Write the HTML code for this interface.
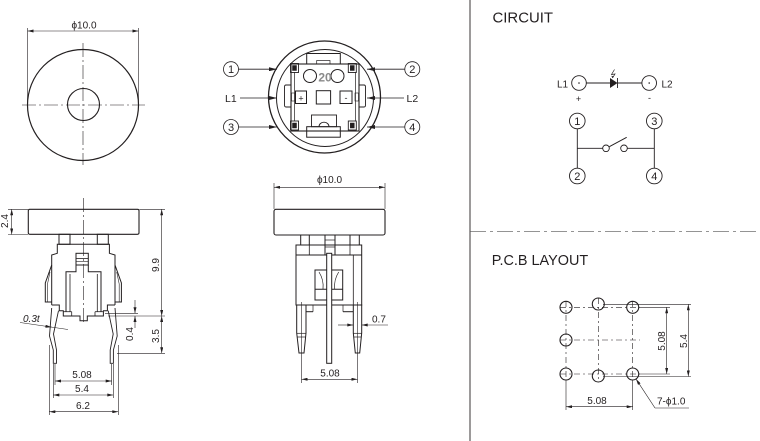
<!DOCTYPE html>
<html><head><meta charset="utf-8"><style>
html,body{margin:0;padding:0;background:#fff}
svg{display:block}
text{font-family:"Liberation Sans","DejaVu Sans",sans-serif;fill:#231f20}
</style></head><body>
<svg width="760" height="441" viewBox="0 0 760 441" xmlns="http://www.w3.org/2000/svg">
<defs>
<marker id="ar" viewBox="0 0 8 4" refX="8" refY="2" markerWidth="7" markerHeight="3" markerUnits="userSpaceOnUse" orient="auto-start-reverse"><path d="M0,0 L8,2 L0,4 z" fill="#231f20"/></marker>
<marker id="ab" viewBox="0 0 8 4" refX="8" refY="2" markerWidth="9" markerHeight="4" markerUnits="userSpaceOnUse" orient="auto"><path d="M0,0 L8,2 L0,4 z" fill="#231f20"/></marker>
</defs>
<rect width="760" height="441" fill="#fff"/>

<!-- dividers -->
<line x1="470" y1="0" x2="470" y2="441" stroke="#231f20" stroke-width="0.9"/>
<line x1="470" y1="231.7" x2="760" y2="231.7" stroke="#555" stroke-width="0.6" stroke-dasharray="16,4,3,4"/>

<!-- ===== TOP LEFT ===== -->
<g fill="none" stroke="#231f20">
<circle cx="83" cy="105" r="55.5" stroke-width="1.2"/>
<circle cx="83.5" cy="104.5" r="16" stroke-width="1.1"/>
<g stroke-width="0.6" stroke-dasharray="14,3,2,3">
<line x1="22" y1="105" x2="145" y2="105"/>
<line x1="83" y1="43" x2="83" y2="165"/>
</g>
<g stroke-width="0.6">
<line x1="27.5" y1="28" x2="27.5" y2="104"/>
<line x1="138.5" y1="28" x2="138.5" y2="104"/>
<line x1="27.5" y1="31" x2="138.5" y2="31" marker-start="url(#ar)" marker-end="url(#ar)"/>
</g>
</g>
<text x="84" y="28.3" font-size="10" text-anchor="middle">ϕ10.0</text>

<!-- ===== TOP MIDDLE ===== -->
<g fill="none" stroke="#231f20">
<circle cx="324.5" cy="97" r="56" stroke-width="1.3"/>
<circle cx="325" cy="98" r="48.5" stroke-width="1"/>
<!-- body square -->
<rect x="291" y="64" width="68" height="67" stroke-width="1.1"/>
<line x1="294.5" y1="72" x2="294.5" y2="121" stroke-width="0.7"/>
<line x1="355.5" y1="72" x2="355.5" y2="121" stroke-width="0.7"/>
<!-- top tab -->
<rect x="306.7" y="53.5" width="33.6" height="10.5" stroke-width="1"/>
<rect x="316.7" y="60.5" width="13.3" height="3.5" stroke-width="0.7"/>
<!-- bottom tab -->
<rect x="311.5" y="115" width="25" height="11.7" stroke-width="0.9"/>
<path d="M319,126.7 A5,4.5 0 0 1 329,126.7" stroke-width="0.9"/>
<rect x="306.7" y="126.7" width="33.6" height="10.5" stroke-width="1"/>
<!-- corner squares -->
<rect x="290.5" y="63.5" width="8" height="9" stroke-width="0.9"/>
<rect x="292.5" y="65.5" width="4" height="5" fill="#231f20" stroke-width="0.5"/>
<rect x="348.3" y="63.5" width="8" height="9" stroke-width="0.9"/>
<rect x="350.3" y="65.5" width="4" height="5" fill="#231f20" stroke-width="0.5"/>
<rect x="290.5" y="121" width="8" height="9" stroke-width="0.9"/>
<rect x="292.5" y="123" width="4" height="5" fill="#231f20" stroke-width="0.5"/>
<rect x="348.3" y="121" width="8" height="9" stroke-width="0.9"/>
<rect x="350.3" y="123" width="4" height="5" fill="#231f20" stroke-width="0.5"/>
<!-- side nubs -->
<path d="M291,85 H286 Q284.5,85 284.5,87 V105 Q284.5,107 286,107 H291" stroke-width="0.9"/>
<path d="M359,85 H364 Q365.5,85 365.5,87 V105 Q365.5,107 364,107 H359" stroke-width="0.9"/>
<!-- circles with 20 -->
<circle cx="310" cy="76" r="6.5" stroke-width="1"/>
<circle cx="337.5" cy="76" r="6.5" stroke-width="1"/>
<!-- boxes -->
<rect x="295.5" y="91" width="11" height="12.5" stroke-width="1"/>
<rect x="316.3" y="90.7" width="14.3" height="13.3" stroke-width="1"/>
<rect x="340" y="91" width="12" height="12.5" stroke-width="1"/>
<rect x="291.5" y="93" width="3.5" height="8" stroke-width="0.6"/>
<rect x="355" y="93" width="3.5" height="8" stroke-width="0.6"/>
</g>
<text x="325" y="81.5" font-size="12" font-weight="bold" text-anchor="middle" style="fill:#8a8a8a">20</text>
<text x="301" y="101.5" font-size="9" text-anchor="middle">+</text>
<text x="346" y="101" font-size="9" text-anchor="middle">-</text>

<!-- leaders -->
<g stroke="#231f20" stroke-width="0.8" fill="none">
<line x1="238.5" y1="69.2" x2="277" y2="69.2" marker-end="url(#ab)"/>
<line x1="240" y1="98" x2="277" y2="98" marker-end="url(#ab)"/>
<line x1="238.5" y1="127" x2="277" y2="127" marker-end="url(#ab)"/>
<line x1="404.5" y1="69.2" x2="367" y2="69.2" marker-end="url(#ab)"/>
<line x1="404" y1="98" x2="367" y2="98" marker-end="url(#ab)"/>
<line x1="404.5" y1="127" x2="367" y2="127" marker-end="url(#ab)"/>
<circle cx="231" cy="69.2" r="7.5"/>
<circle cx="231" cy="127" r="7.5"/>
<circle cx="412.3" cy="69.2" r="7.5"/>
<circle cx="412.3" cy="127" r="7.5"/>
</g>
<g font-size="11" text-anchor="middle">
<text x="231" y="73">1</text>
<text x="231" y="131">3</text>
<text x="412.3" y="73">2</text>
<text x="412.3" y="131">4</text>
</g>
<text x="225" y="102" font-size="10.5">L1</text>
<text x="406.5" y="102" font-size="10.5">L2</text>

<!-- ===== BOTTOM LEFT ===== -->
<g fill="none" stroke="#231f20" stroke-width="1">
<rect x="28.3" y="209.3" width="110.7" height="25" rx="1.5" stroke-width="1.1"/>
<rect x="59" y="234.3" width="11" height="10"/>
<rect x="97.3" y="234.3" width="11" height="10"/>
<path d="M51.7,305 V255 L57.3,253.3 V244.3 H109.4 V253.3 L115,255 V305"/>
<path d="M51.7,305 H59.3 V310.7 H63.3 V316 H80 V320.7 H87.3 V316 H103.4 V310.7 H107.4 V305 H115"/>
<line x1="63.3" y1="311.7" x2="71.7" y2="311.7" stroke-width="0.8"/>
<line x1="71.7" y1="311.7" x2="71.7" y2="316" stroke-width="0.8"/>
<line x1="95" y1="311.7" x2="103.4" y2="311.7" stroke-width="0.8"/>
<line x1="95" y1="311.7" x2="95" y2="316" stroke-width="0.8"/>
<!-- springs -->
<path d="M51.7,265 L45.3,283 V302 H51.7"/>
<path d="M50,272 L47.5,284 V302" stroke-width="0.6"/>
<path d="M115,265 L121.4,283 V302 H115"/>
<path d="M116.7,272 L119.2,284 V302" stroke-width="0.6"/>
<!-- LED block -->
<rect x="76" y="253.3" width="12.3" height="11.7"/>
<line x1="76" y1="258.5" x2="88.3" y2="258.5" stroke-width="0.8"/>
<line x1="76" y1="261.5" x2="88.3" y2="261.5" stroke-width="0.6"/>
<!-- inner U -->
<path d="M76,265 V271.7 H66 V311.7"/>
<path d="M88.3,265 V271.7 H101 V311.7"/>
<line x1="70" y1="274" x2="70" y2="311.7" stroke-width="0.8"/>
<line x1="97.3" y1="274" x2="97.3" y2="311.7" stroke-width="0.8"/>
<!-- legs -->
<path d="M51.7,308 L49.5,336 L53.3,350 V363.3 H56.5 V350 L53.5,334 L58.5,310.7" stroke-width="0.9"/>
<path d="M115,308 L117.2,336 L113.4,350 V363.3 H110.2 V350 L113.2,334 L108.2,310.7" stroke-width="0.9"/>
</g>
<line x1="83.3" y1="198" x2="83.3" y2="324" stroke="#231f20" stroke-width="0.6" stroke-dasharray="14,3,2,3"/>
<!-- dims -->
<g stroke="#231f20" stroke-width="0.6" fill="none">
<line x1="8" y1="209.3" x2="28" y2="209.3"/>
<line x1="8" y1="234.5" x2="28" y2="234.5"/>
<line x1="11.7" y1="209.3" x2="11.7" y2="234.5" marker-start="url(#ar)" marker-end="url(#ar)"/>
<line x1="139.5" y1="209.3" x2="165" y2="209.3"/>
<line x1="161.7" y1="209.3" x2="161.7" y2="316" marker-start="url(#ar)" marker-end="url(#ar)"/>
<line x1="161.7" y1="316" x2="161.7" y2="353.3" marker-start="url(#ar)" marker-end="url(#ar)"/>
<line x1="105" y1="313.3" x2="138" y2="313.3"/>
<line x1="108" y1="316" x2="165" y2="316"/>
<line x1="117" y1="353.3" x2="165" y2="353.3"/>
<line x1="135" y1="300" x2="135" y2="313.3" marker-end="url(#ar)"/>
<line x1="135" y1="328" x2="135" y2="316" marker-end="url(#ar)"/>
<line x1="20" y1="322.5" x2="68" y2="329.5"/>
<line x1="45" y1="326.2" x2="51.5" y2="327.1" marker-end="url(#ar)"/>
<line x1="49.3" y1="345" x2="49.3" y2="415"/>
<line x1="118.3" y1="345" x2="118.3" y2="415"/>
<line x1="53.3" y1="364" x2="53.3" y2="398"/>
<line x1="113.3" y1="364" x2="113.3" y2="398"/>
<line x1="55" y1="364" x2="55" y2="385"/>
<line x1="111.7" y1="364" x2="111.7" y2="385"/>
<line x1="55" y1="381" x2="111.7" y2="381" marker-start="url(#ar)" marker-end="url(#ar)"/>
<line x1="53.3" y1="395" x2="113.3" y2="395" marker-start="url(#ar)" marker-end="url(#ar)"/>
<line x1="49.3" y1="411.7" x2="118.3" y2="411.7" marker-start="url(#ar)" marker-end="url(#ar)"/>
</g>
<g font-size="10">
<text x="8" y="221" text-anchor="middle" transform="rotate(-90 8 221)">2.4</text>
<text x="159" y="265" text-anchor="middle" transform="rotate(-90 159 265)">9.9</text>
<text x="159" y="336" text-anchor="middle" transform="rotate(-90 159 336)">3.5</text>
<text x="133" y="334" text-anchor="middle" transform="rotate(-90 133 334)">0.4</text>
<text x="23" y="322" font-style="italic">0.3t</text>
<text x="82" y="378" text-anchor="middle">5.08</text>
<text x="82" y="392" text-anchor="middle">5.4</text>
<text x="83" y="409" text-anchor="middle">6.2</text>
</g>

<!-- ===== BOTTOM MIDDLE ===== -->
<g fill="none" stroke="#231f20" stroke-width="1">
<rect x="274" y="209.3" width="111" height="25.7" rx="2" stroke-width="1.1"/>
<rect x="300.7" y="235" width="8.6" height="10"/>
<rect x="350" y="235" width="9.3" height="10"/>
<rect x="325" y="235" width="10" height="20"/>
<line x1="325" y1="240" x2="335" y2="240" stroke-width="0.7"/>
<line x1="325" y1="247" x2="335" y2="247" stroke-width="0.7"/>
<rect x="296" y="245" width="65.7" height="60"/>
<line x1="296" y1="255" x2="361.7" y2="255"/>
<line x1="309.3" y1="245" x2="309.3" y2="255" stroke-width="0.8"/>
<line x1="350" y1="245" x2="350" y2="255" stroke-width="0.8"/>
<line x1="353.3" y1="255" x2="353.3" y2="305" stroke-width="0.8"/>
<rect x="315" y="270" width="27.7" height="30"/>
<line x1="315" y1="289.3" x2="342.7" y2="289.3"/>
<path d="M319,272 Q324,280 323,289" stroke-width="0.7"/>
<path d="M338.7,272 Q333.7,280 334.7,289" stroke-width="0.7"/>
<line x1="305" y1="311.7" x2="313" y2="311.7"/>
<line x1="313" y1="305" x2="313" y2="311.7" stroke-width="0.7"/>
<line x1="343" y1="311.7" x2="353" y2="311.7"/>
<line x1="343" y1="305" x2="343" y2="311.7" stroke-width="0.7"/>
<path d="M296.7,305 H306 V333 L304,353 H299 L296.7,333 Z" fill="#fff"/>
<line x1="296.7" y1="333.3" x2="306" y2="333.3" stroke-width="0.7"/>
<line x1="297" y1="337" x2="305.6" y2="337" stroke-width="0.7"/>
<path d="M353.3,305 H361.7 V333 L359.7,353 H355.3 L353.3,333 Z" fill="#fff"/>
<line x1="353.3" y1="333.3" x2="361.7" y2="333.3" stroke-width="0.7"/>
<line x1="353.6" y1="337" x2="361.4" y2="337" stroke-width="0.7"/>
<rect x="326.7" y="253.3" width="5" height="110" fill="#fff"/>
</g>
<g stroke="#231f20" stroke-width="0.6" fill="none">
<line x1="274" y1="183" x2="274" y2="209"/>
<line x1="385" y1="183" x2="385" y2="209"/>
<line x1="274" y1="187.3" x2="385" y2="187.3" marker-start="url(#ar)" marker-end="url(#ar)"/>
<line x1="301.5" y1="302" x2="301.5" y2="383"/>
<line x1="357.5" y1="302" x2="357.5" y2="383"/>
<line x1="301.5" y1="379.3" x2="357.5" y2="379.3" marker-start="url(#ar)" marker-end="url(#ar)"/>
<line x1="338" y1="325" x2="353.3" y2="325" marker-end="url(#ar)"/>
<line x1="388" y1="325" x2="361.7" y2="325" marker-end="url(#ar)"/>
</g>
<g font-size="10">
<text x="329.5" y="183" text-anchor="middle">ϕ10.0</text>
<text x="330" y="376.5" text-anchor="middle">5.08</text>
<text x="372" y="322.5">0.7</text>
</g>

<!-- ===== CIRCUIT ===== -->
<text x="492.5" y="22.7" font-size="15" textLength="60.5" lengthAdjust="spacingAndGlyphs">CIRCUIT</text>
<g fill="none" stroke="#231f20" stroke-width="0.9">
<circle cx="579" cy="83" r="7.3"/>
<circle cx="649.2" cy="83" r="7.3"/>
<line x1="586.3" y1="83" x2="610" y2="83"/>
<line x1="617.5" y1="83" x2="641.9" y2="83"/>
<line x1="617.5" y1="78" x2="617.5" y2="88"/>
<path d="M614.5,69.5 L611.5,74.5 L615,74 L612.5,78" stroke-width="0.7"/>
<circle cx="577.3" cy="121" r="7.8"/>
<circle cx="654.3" cy="121" r="7.8"/>
<circle cx="577.3" cy="176" r="7.8"/>
<circle cx="654.3" cy="176" r="7.8"/>
<line x1="577.3" y1="128.8" x2="577.3" y2="168.2"/>
<line x1="654.3" y1="128.8" x2="654.3" y2="168.2"/>
<line x1="577.3" y1="148.3" x2="602.7" y2="148.3"/>
<line x1="627.3" y1="148.3" x2="654.3" y2="148.3"/>
<circle cx="606" cy="148.3" r="3.3"/>
<circle cx="624" cy="148.3" r="3.3"/>
<line x1="609.3" y1="146.7" x2="626.7" y2="137.3"/>
</g>
<path d="M610,78 L610,88 L617.5,83 Z" fill="#231f20"/>
<path d="M612.5,78 L611.3,75.8 L614,76.6 Z" fill="#231f20"/>
<circle cx="579" cy="83" r="0.8" fill="#231f20"/>
<circle cx="649.2" cy="83" r="0.8" fill="#231f20"/>
<g font-size="10">
<text x="557" y="87.3">L1</text>
<text x="661.5" y="87.3">L2</text>
<text x="578.5" y="102" text-anchor="middle" font-size="9">+</text>
<text x="649.5" y="101" text-anchor="middle" font-size="9">-</text>
</g>
<g font-size="11" text-anchor="middle">
<text x="577.3" y="125">1</text>
<text x="654.3" y="125">3</text>
<text x="577.3" y="180">2</text>
<text x="654.3" y="180">4</text>
</g>

<!-- ===== PCB LAYOUT ===== -->
<text x="491.7" y="265" font-size="15" textLength="96.5" lengthAdjust="spacingAndGlyphs">P.C.B LAYOUT</text>
<g stroke="#231f20" stroke-width="0.6" fill="none">
<g stroke-dasharray="6,3,2,3">
<line x1="560" y1="307.3" x2="640" y2="307.3"/>
<line x1="560" y1="340" x2="640" y2="340"/>
<line x1="560" y1="374" x2="640" y2="374"/>
<line x1="566" y1="301" x2="566" y2="382"/>
<line x1="598.3" y1="298" x2="598.3" y2="382"/>
<line x1="632.7" y1="301" x2="632.7" y2="382"/>
</g>
<line x1="603" y1="304.3" x2="691" y2="304.3"/>
<line x1="639" y1="307.3" x2="670" y2="307.3"/>
<line x1="639" y1="374" x2="670" y2="374"/>
<line x1="603" y1="376.5" x2="691" y2="376.5"/>
<line x1="666.7" y1="307.3" x2="666.7" y2="374" marker-start="url(#ar)" marker-end="url(#ar)"/>
<line x1="688.3" y1="304.3" x2="688.3" y2="376.5" marker-start="url(#ar)" marker-end="url(#ar)"/>
<line x1="566" y1="382" x2="566" y2="410"/>
<line x1="632.7" y1="382" x2="632.7" y2="410"/>
<line x1="566" y1="406.7" x2="632.7" y2="406.7" marker-start="url(#ar)" marker-end="url(#ar)"/>
<line x1="655" y1="408" x2="636" y2="379" marker-end="url(#ar)"/>
<line x1="655" y1="408" x2="689" y2="408"/>
</g>
<g fill="none" stroke="#231f20" stroke-width="1.1">
<circle cx="566" cy="307.3" r="6"/>
<circle cx="598.3" cy="304" r="6"/>
<circle cx="632.7" cy="307.3" r="6"/>
<circle cx="566" cy="340" r="6"/>
<circle cx="566" cy="374" r="6"/>
<circle cx="598.3" cy="376" r="6"/>
<circle cx="632.7" cy="374" r="6"/>
</g>
<g font-size="10">
<text x="665" y="341" text-anchor="middle" transform="rotate(-90 665 341)">5.08</text>
<text x="687" y="341" text-anchor="middle" transform="rotate(-90 687 341)">5.4</text>
<text x="597" y="404" text-anchor="middle">5.08</text>
<text x="657" y="404.5">7-ϕ1.0</text>
</g>
</svg>
</body></html>
